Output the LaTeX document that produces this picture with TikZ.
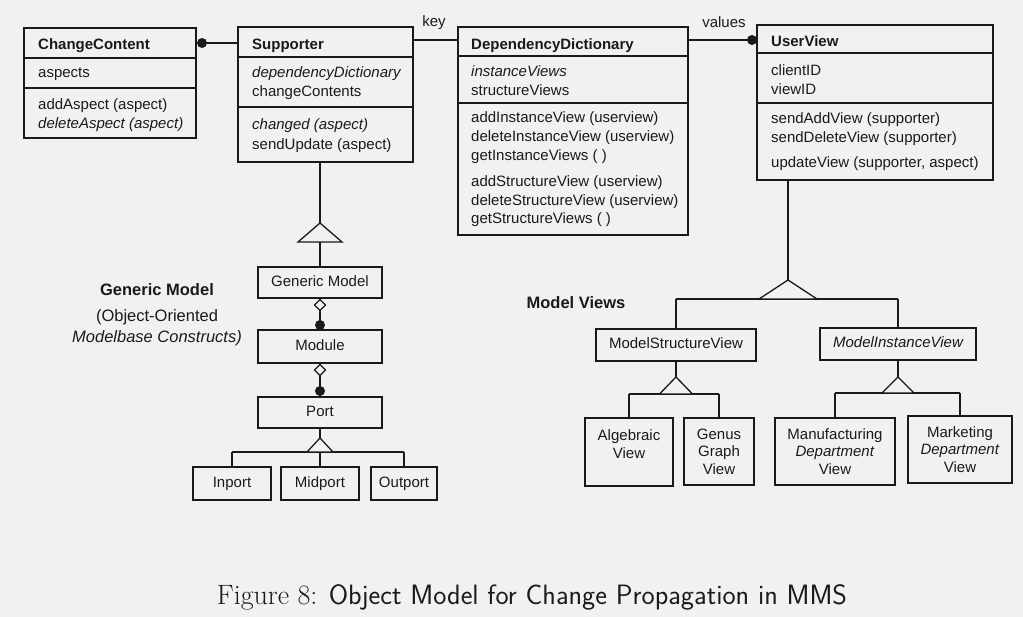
\documentclass[tikz,border=0pt]{standalone}
\usepackage{fontspec}
\newfontfamily\dfont{Liberation Sans}
\usetikzlibrary{fit,calc}
\definecolor{paper}{RGB}{241,241,239}
\definecolor{ink}{RGB}{26,26,26}

\begin{document}
\begin{tikzpicture}[x=1pt,y=-1pt,
  ln/.style={line width=1.3pt, draw=ink},
  cls/.style={ln, inner sep=0pt},
  t/.style={font=\dfont\fontsize{15}{18}\selectfont, inner sep=0pt, anchor=base west, text=ink},
  tb/.style={t, font=\dfont\fontsize{15}{18}\selectfont\bfseries},
  ti/.style={t, font=\dfont\fontsize{15}{18}\selectfont\itshape},
  inbox/.style={font=\dfont\fontsize{15}{17.5}\selectfont, inner sep=0pt, align=center, text=ink},
  lbl/.style={font=\dfont\fontsize{16.5}{21}\selectfont, inner sep=0pt, align=center, text=ink},
  gen/.style={ln, fill=paper},
  dot/.style={fill=ink}
]
\fill[paper] (0,0) rectangle (1023,617);
\useasboundingbox (0,0) rectangle (1023,617);

% ---------- ChangeContent ----------
\node[cls, fit={(24,28) (196,138)}] (cc) {};
\draw[ln] (24,58) -- (196,58) (24,88) -- (196,88);
\node[tb] (ccT) at (38,50) {ChangeContent};
\node[t]  (cc1) at (38,78) {aspects};
\node[t]  (cc2) at (38,110) {addAspect (aspect)};
\node[ti] (cc3) at (38,129) {deleteAspect (aspect)};

% ---------- Supporter ----------
\node[cls, fit={(238,27) (413,162)}] (sup) {};
\draw[ln] (238,57) -- (413,57) (238,107) -- (413,107);
\node[tb] (supT) at (252,50) {Supporter};
\node[ti] (sup1) at (252,78) {dependencyDictionary};
\node[t]  (sup2) at (252,97) {changeContents};
\node[ti] (sup3) at (252,130) {changed (aspect)};
\node[t]  (sup4) at (252,150) {sendUpdate (aspect)};

% ---------- DependencyDictionary ----------
\node[cls, fit={(458,27) (688,235)}] (dd) {};
\draw[ln] (458,56) -- (688,56) (458,103) -- (688,103);
\node[tb] (ddT) at (471,50) {DependencyDictionary};
\node[ti] (dd1) at (471,77) {instanceViews};
\node[t]  (dd2) at (471,96) {structureViews};
\node[t]  (dd3) at (471,123) {addInstanceView (userview)};
\node[t]  (dd4) at (471,142) {deleteInstanceView (userview)};
\node[t]  (dd5) at (471,161) {getInstanceViews ( )};
\node[t]  (dd6) at (471,187) {addStructureView (userview)};
\node[t]  (dd7) at (471,206) {deleteStructureView (userview)};
\node[t]  (dd8) at (471,224) {getStructureViews ( )};

% ---------- UserView ----------
\node[cls, fit={(757,25) (993,180)}] (uv) {};
\draw[ln] (757,53) -- (993,53) (757,103) -- (993,103);
\node[tb] (uvT) at (771,47) {UserView};
\node[t]  (uv1) at (771,76) {clientID};
\node[t]  (uv2) at (771,95) {viewID};
\node[t]  (uv3) at (771,124) {sendAddView (supporter)};
\node[t]  (uv4) at (771,143) {sendDeleteView (supporter)};
\node[t]  (uv5) at (771,168) {updateView (supporter, aspect)};

% ---------- associations along the top ----------
\coordinate (ccdot) at (202,43);
\draw[ln] (ccdot) -- (sup.west |- ccdot);
\fill[dot] (ccdot) circle (5);

\coordinate (keyy) at (0,40);
\draw[ln] (sup.east |- keyy) -- (dd.west |- keyy);
\node[t, anchor=center] (key) at (434,23) {key};

\coordinate (uvdot) at (752,40);
\draw[ln] (dd.east |- uvdot) -- (uvdot);
\fill[dot] (uvdot) circle (5);
\node[t, anchor=center] (values) at (724,22) {values};

% ---------- Generic Model branch ----------
\node[cls, fit={(258,267) (382,298)}] (gm) {};
\node[inbox, text height=11, text depth=3] at (gm.center) {Generic Model};
\node[cls, fit={(258,330) (382,363)}] (mod) {};
\node[inbox, text height=11, text depth=3] at (mod.center) {Module};
\node[cls, fit={(258,397) (382,428)}] (port) {};
\node[inbox, text height=11, text depth=3] at (port.center) {Port};

\coordinate (t1) at (320,223);
\draw[ln] (t1 |- sup.south) -- (t1);
\draw[gen] (t1) -- ++(-22,19) -- ++(44,0) -- cycle;
\draw[ln] (320,242) -- (gm.south |- gm.north);

% aggregations: hollow diamond at the whole, filled dot at the part
\draw[ln] (gm.south) -- (mod.north);
\draw[gen] (320,299.5) -- (325.5,305) -- (320,310.5) -- (314.5,305) -- cycle;
\fill[dot] (320,325) circle (5);
\draw[ln] (mod.south) -- (port.north);
\draw[gen] (320,364.5) -- (325.5,370) -- (320,375.5) -- (314.5,370) -- cycle;
\fill[dot] (320,391) circle (5);

\node[cls, fit={(193,467) (271,500)}] (inp) {};
\node[inbox, text height=11, text depth=3] at (inp.center) {Inport};
\node[cls, fit={(281,467) (359,500)}] (mid) {};
\node[inbox, text height=11, text depth=3] at (mid.center) {Midport};
\node[cls, fit={(371,467) (437,500)}] (outp) {};
\node[inbox, text height=11, text depth=3] at (outp.center) {Outport};

\coordinate (t2) at (320,438);
\draw[ln] (port.south) -- (t2);
\draw[ln] (inp.north |- 0,452) -- (outp.north |- 0,452);
\draw[ln] (inp.north |- 0,452) -- (inp.north);
\draw[ln] (mid.north |- 0,452) -- (mid.north);
\draw[ln] (outp.north |- 0,452) -- (outp.north);
\draw[gen] (t2) -- ++(-13,14) -- ++(26,0) -- cycle;

\node[lbl, font=\dfont\fontsize{16.5}{21}\selectfont\bfseries] (gmlabel) at (157,290) {Generic Model};
\node[lbl] (gmsub1) at (157,317) {(Object-Oriented};
\node[lbl, font=\dfont\fontsize{16.5}{21}\selectfont\itshape] (gmsub2) at (157,338) {Modelbase Constructs)};

% ---------- Model Views branch ----------
\node[lbl, font=\dfont\fontsize{16.5}{21}\selectfont\bfseries] (mvlabel) at (576,303) {Model Views};

\node[cls, fit={(596,329) (756,361)}] (msv) {};
\node[inbox, text height=11, text depth=3] at (msv.center) {ModelStructureView};
\node[cls, fit={(820,328) (976,360)}] (miv) {};
\node[inbox, text height=11, text depth=3, font=\dfont\fontsize{15}{17.5}\selectfont\itshape] at (miv.center) {ModelInstanceView};

\coordinate (t3) at (788,280);
\draw[ln] (t3 |- uv.south) -- (t3);
\draw[ln] (msv.north |- 0,299) -- (miv.north |- 0,299);
\draw[ln] (msv.north |- 0,299) -- (msv.north);
\draw[ln] (miv.north |- 0,299) -- (miv.north);
\draw[gen] (t3) -- ++(-29,19) -- ++(58,0) -- cycle;

\node[cls, fit={(585,418) (673,486)}] (alg) {};
\node[inbox] at (629,444) {Algebraic\\View};
\node[cls, fit={(684,418) (754,485)}] (genus) {};
\node[inbox] at (genus.center) {Genus\\Graph\\View};

\coordinate (t4) at (676,377);
\draw[ln] (msv.south -| t4) -- (t4);
\draw[ln] (alg.north |- 0,394) -- (genus.north |- 0,394);
\draw[ln] (alg.north |- 0,394) -- (alg.north);
\draw[ln] (genus.north |- 0,394) -- (genus.north);
\draw[gen] (t4) -- ++(-16.5,17) -- ++(33,0) -- cycle;

\node[cls, fit={(775,418) (895,485)}] (manu) {};
\node[inbox] at (manu.center) {Manufacturing\\\textit{Department}\\View};
\node[cls, fit={(908,416) (1012,483)}] (mark) {};
\node[inbox] at (mark.center) {Marketing\\\textit{Department}\\View};

\coordinate (t5) at (898,377);
\draw[ln] (miv.south -| t5) -- (t5);
\draw[ln] (manu.north |- 0,393) -- (mark.north |- 0,393);
\draw[ln] (manu.north |- 0,393) -- (manu.north);
\draw[ln] (mark.north |- 0,393) -- (mark.north);
\draw[gen] (t5) -- ++(-16,16) -- ++(32,0) -- cycle;

% ---------- caption ----------
\node[inner sep=0pt, text=ink, font=\fontsize{28}{32}\selectfont] (caption) at (532,597)
  {\rmfamily Figure 8: \sffamily Object Model for Change Propagation in MMS};
\end{tikzpicture}
\end{document}
